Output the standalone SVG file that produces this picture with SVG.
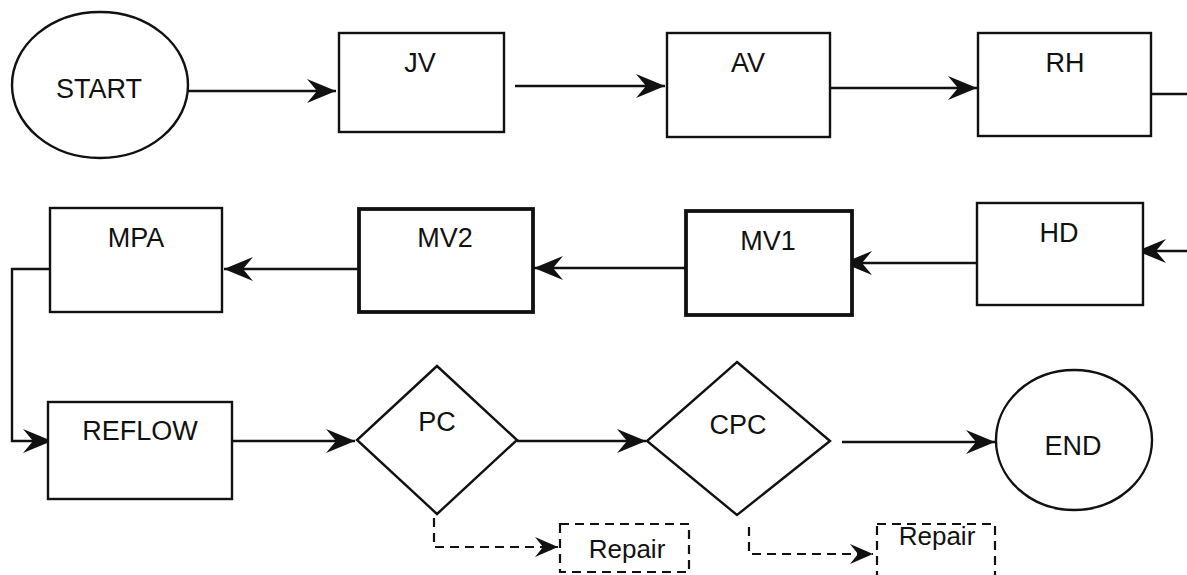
<svg xmlns="http://www.w3.org/2000/svg" width="1187" height="575" viewBox="0 0 1187 575">
<style>
.shape{fill:#fff;stroke:#111;stroke-width:2.4}
.thick{stroke-width:3.8}
.lbl{font-family:"Liberation Sans",Arial,sans-serif;font-size:27px;fill:#111;text-anchor:middle}
.rep{font-size:26px}
.conn{fill:none;stroke:#111;stroke-width:2.4}
.dash{fill:none;stroke:#111;stroke-width:2.2;stroke-dasharray:9 6}
.dbox{fill:#fff;stroke:#111;stroke-width:2.2;stroke-dasharray:9 6}
</style>
<defs>
<marker id="ah" markerUnits="userSpaceOnUse" viewBox="-30 -13 32 26" refX="0" refY="0" markerWidth="32" markerHeight="26" orient="auto" overflow="visible">
<path d="M0,0 L-29,-12 L-19,0 L-29,12 Z" fill="#111"/>
</marker>
<marker id="ahs" markerUnits="userSpaceOnUse" viewBox="-24 -11 26 22" refX="0" refY="0" markerWidth="26" markerHeight="22" orient="auto" overflow="visible">
<path d="M0,0 L-23,-10 L-15,0 L-23,10 Z" fill="#111"/>
</marker>
</defs>
<rect width="1187" height="575" fill="#fff"/>
<g id="connectors">
<line class="conn" x1="188" y1="91" x2="336" y2="91" marker-end="url(#ah)"/>
<line class="conn" x1="515" y1="86" x2="665" y2="86" marker-end="url(#ah)"/>
<line class="conn" x1="825" y1="88" x2="977" y2="88" marker-end="url(#ah)"/>
<line class="conn" x1="1151" y1="94" x2="1187" y2="94"/>
<line class="conn" x1="1187" y1="251" x2="1137" y2="251" marker-end="url(#ah)"/>
<line class="conn" x1="985" y1="263" x2="843" y2="263" marker-end="url(#ah)"/>
<line class="conn" x1="687" y1="268" x2="534" y2="268" marker-end="url(#ah)"/>
<line class="conn" x1="359" y1="269" x2="224" y2="269" marker-end="url(#ah)"/>
<polyline class="conn" points="50,269 12,269 12,441 52,441" marker-end="url(#ah)"/>
<line class="conn" x1="222" y1="441" x2="355" y2="441" marker-end="url(#ah)"/>
<line class="conn" x1="517" y1="441" x2="646" y2="441" marker-end="url(#ah)"/>
<line class="conn" x1="842" y1="442" x2="995" y2="442" marker-end="url(#ah)"/>
<polyline class="dash" points="434,518 434,547 558,547" marker-end="url(#ahs)"/>
<polyline class="dash" points="749,527 749,554 873,554" marker-end="url(#ahs)"/>
</g>
<g id="start"><ellipse class="shape" cx="100" cy="85" rx="88" ry="73"/><text class="lbl" x="99" y="98" font-size="25">START</text></g>
<g id="jv"><rect class="shape" x="339" y="33" width="165" height="99"/><text class="lbl" x="420" y="72" font-size="26">JV</text></g>
<g id="av"><rect class="shape" x="667" y="33" width="163" height="104"/><text class="lbl" x="748" y="72">AV</text></g>
<g id="rh"><rect class="shape" x="978" y="33" width="173" height="103"/><text class="lbl" x="1065" y="72" font-size="26">RH</text></g>
<g id="hd"><rect class="shape" x="977" y="203" width="166" height="102"/><text class="lbl" x="1059" y="242" font-size="28">HD</text></g>
<g id="mv1"><rect class="shape thick" x="686" y="211" width="166" height="104"/><text class="lbl" x="768" y="250">MV1</text></g>
<g id="mv2"><rect class="shape thick" x="359" y="209" width="174" height="103"/><text class="lbl" x="445" y="247" font-size="26">MV2</text></g>
<g id="mpa"><rect class="shape" x="50" y="208" width="172" height="104"/><text class="lbl" x="136" y="247" font-size="28">MPA</text></g>
<g id="reflow"><rect class="shape" x="48" y="402" width="184" height="97"/><text class="lbl" x="140" y="440" font-size="28">REFLOW</text></g>
<g id="pc"><polygon class="shape" points="437,366 517,440 437,514 357,440"/><text class="lbl" x="437" y="431" font-size="25">PC</text></g>
<g id="cpc"><polygon class="shape" points="737,362 830,441 737,515 647,441"/><text class="lbl" x="738" y="434" font-size="28">CPC</text></g>
<g id="end"><ellipse class="shape" cx="1074" cy="440" rx="78" ry="70"/><text class="lbl" x="1073" y="455" font-size="28">END</text></g>
<g id="repair1"><rect class="dbox" x="560" y="524" width="129" height="48"/><text class="lbl rep" x="627" y="558">Repair</text></g>
<g id="repair2"><rect class="dbox" x="877" y="524" width="118" height="60"/><text class="lbl rep" x="937" y="545">Repair</text></g>
</svg>
